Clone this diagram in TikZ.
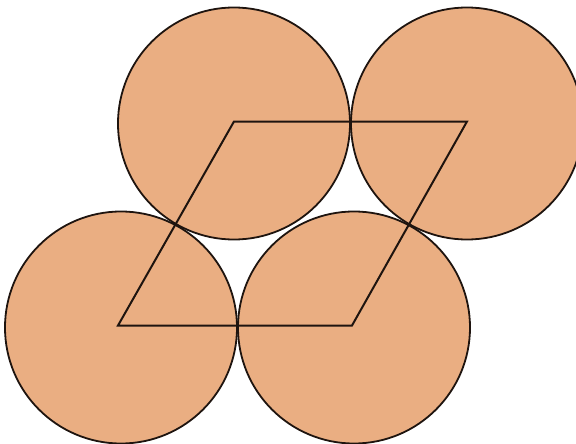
\documentclass[tikz,border=0pt]{standalone}
\definecolor{peach}{RGB}{234,174,130}
\definecolor{edge}{RGB}{30,20,15}
\begin{document}
\begin{tikzpicture}[x=1pt,y=-1pt,
  disc/.style={fill=peach,draw=edge,line width=1.8pt},
  rhomb/.style={draw=edge,line width=2pt,line join=miter}]
\useasboundingbox (0,0) rectangle (576,444);
\clip (0,0) rectangle (576,444);
\coordinate (bl) at (121,327.5);
\coordinate (br) at (354,327.5);
\coordinate (tr) at (467,123.5);
\coordinate (tl) at (234,123.5);
\path[disc] (tl) circle[radius=116];
\path[disc] (tr) circle[radius=116];
\path[disc] (bl) circle[radius=116];
\path[disc] (br) circle[radius=116];
\draw[rhomb] (118,325.5) -- (352,325.5) -- (467,121.5) -- (234,121.5) -- cycle;
\end{tikzpicture}
\end{document}
